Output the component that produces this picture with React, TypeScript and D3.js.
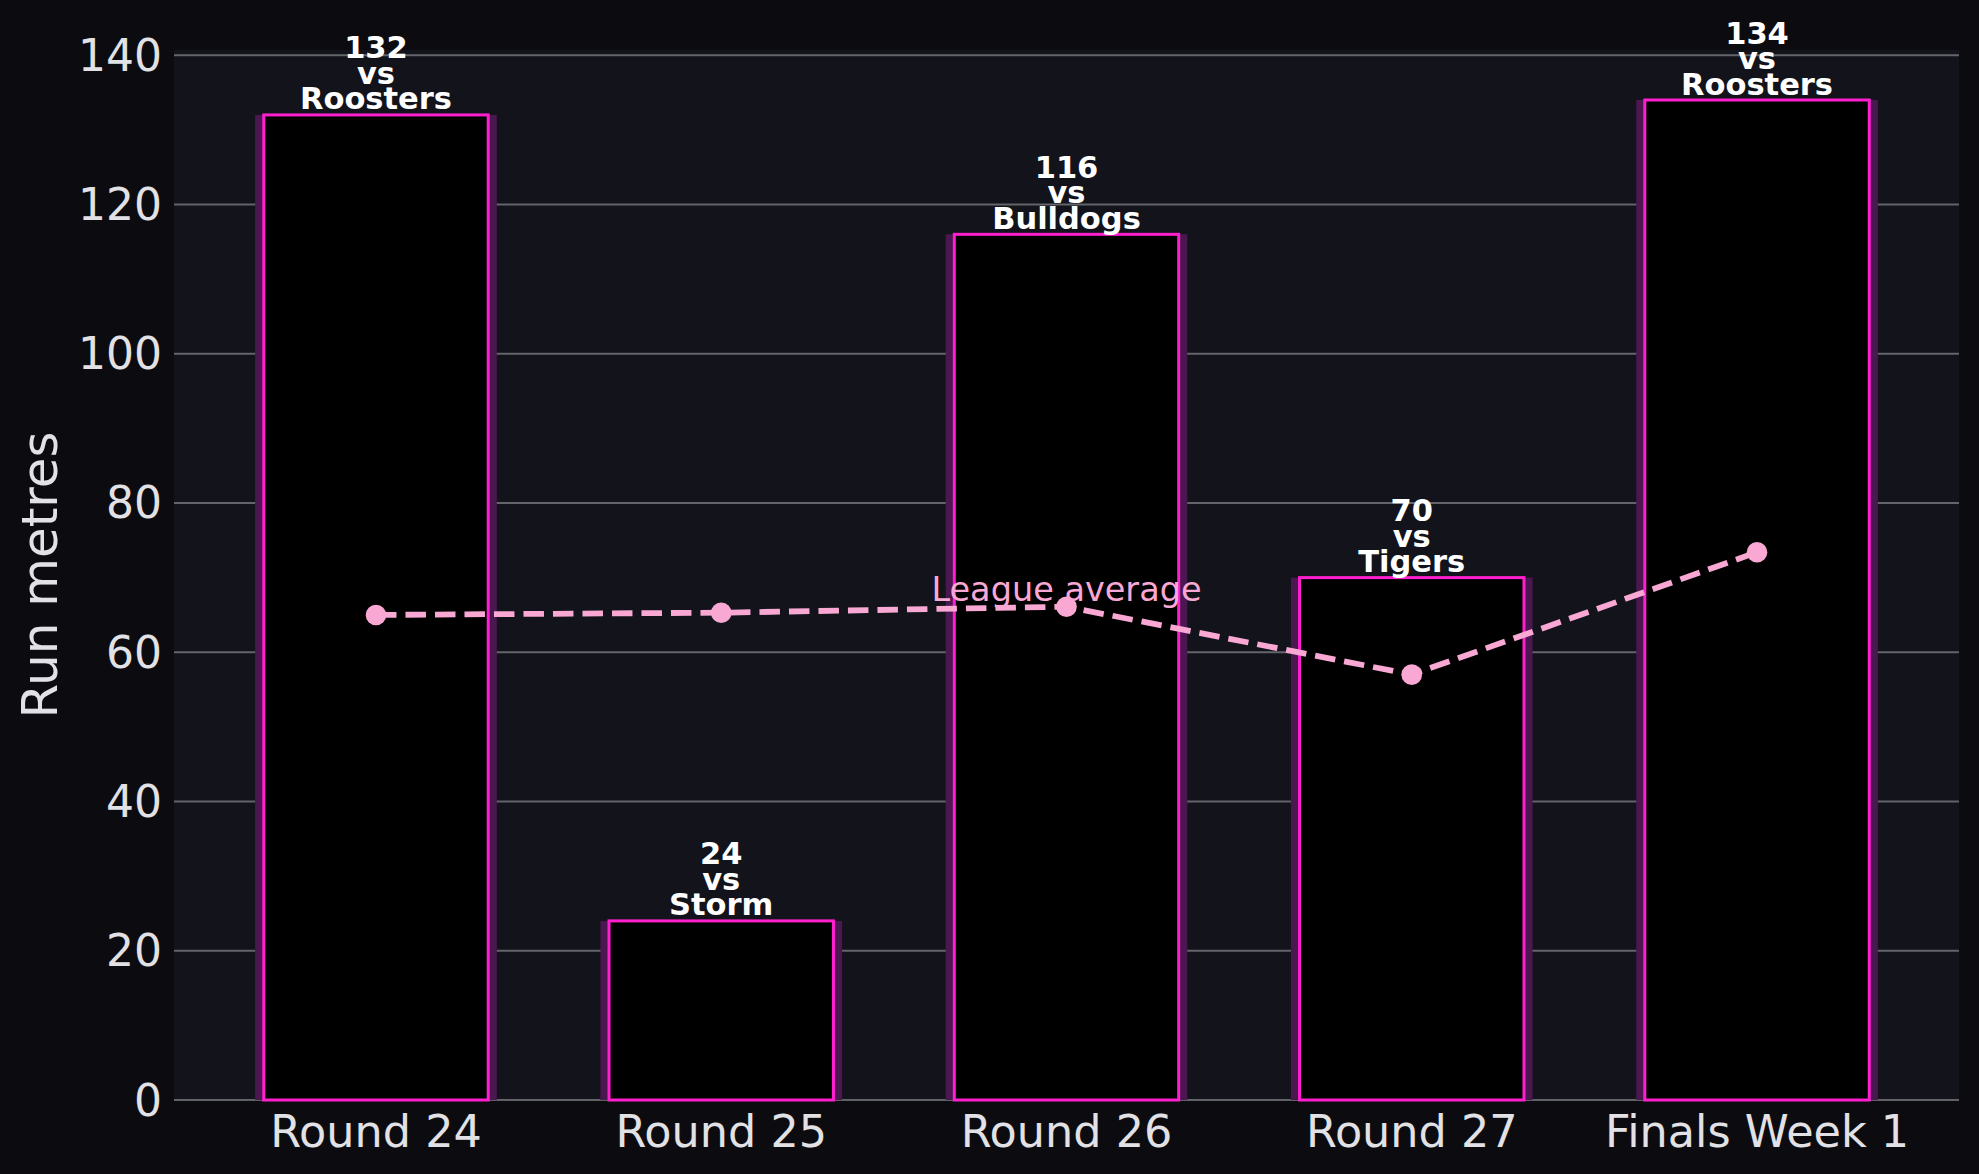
import * as d3 from "d3";

const rounds = ["Round 24", "Round 25", "Round 26", "Round 27", "Finals Week 1"];
const runMetres = [132, 24, 116, 70, 134];
const opponents = ["Roosters", "Storm", "Bulldogs", "Tigers", "Roosters"];
const leagueAverage = [65.0, 65.3, 66.1, 57.0, 73.4];
const yTicks = [0, 20, 40, 60, 80, 100, 120, 140];

const App = () => {
    const width = 1979;
    const height = 1174;
    const margin = { left: 174, right: 20, top: 50, bottom: 74 };
    const font = "'DejaVu Sans', sans-serif";
    const magenta = "#ff1fcf";
    const pink = "#f9a8d4";

    // bars at 0..n-1, matplotlib-style 5% padding around the glow bars
    const xScale = d3
        .scaleLinear()
        .domain([-0.585, rounds.length - 1 + 0.585])
        .range([margin.left, width - margin.right]);
    const yScale = d3
        .scaleLinear()
        .domain([0, d3.max(runMetres) * 1.05])
        .range([height - margin.bottom, margin.top]);

    const unit = xScale(1) - xScale(0);
    const barW = 0.65 * unit;
    const glowW = 0.7 * unit;

    const lineGenerator = d3
        .line()
        .x((d, i) => xScale(i))
        .y((d) => yScale(d));

    return (
        <div style={{ position: "absolute", left: 0, top: 0 }}>
            <svg width={width} height={height} style={{ display: "block" }}>
                <rect width={width} height={height} fill="#0c0c10" />
                <rect
                    x={margin.left}
                    y={margin.top}
                    width={width - margin.left - margin.right}
                    height={height - margin.top - margin.bottom}
                    fill="#12131b"
                />
                {yTicks.map((t) => (
                    <g key={t}>
                        <line
                            x1={margin.left}
                            x2={width - margin.right}
                            y1={yScale(t)}
                            y2={yScale(t)}
                            stroke="#ffffff"
                            strokeOpacity={0.35}
                            strokeWidth={2}
                        />
                        <text
                            x={margin.left - 12}
                            y={yScale(t)}
                            textAnchor="end"
                            dominantBaseline="central"
                            fontFamily={font}
                            fontSize={44}
                            fill="#e2e2e6"
                        >
                            {t}
                        </text>
                    </g>
                ))}
                {runMetres.map((v, i) => (
                    <g key={rounds[i]}>
                        {/* glow behind the bar */}
                        <rect
                            x={xScale(i) - glowW / 2}
                            y={yScale(v)}
                            width={glowW}
                            height={yScale(0) - yScale(v)}
                            fill="#4b1750"
                        />
                        <rect
                            x={xScale(i) - barW / 2}
                            y={yScale(v)}
                            width={barW}
                            height={yScale(0) - yScale(v)}
                            fill="#000000"
                            stroke={magenta}
                            strokeWidth={3}
                        />
                        <text
                            x={xScale(i)}
                            y={yScale(v) - 5.5 - 2 * 25.5}
                            textAnchor="middle"
                            fontFamily={font}
                            fontWeight="bold"
                            fontSize={30.5}
                            fill="#ffffff"
                        >
                            {[String(v), "vs", opponents[i]].map((s, k) => (
                                <tspan key={k} x={xScale(i)} dy={k === 0 ? 0 : 25.5}>
                                    {s}
                                </tspan>
                            ))}
                        </text>
                        <text
                            x={xScale(i)}
                            y={1147}
                            textAnchor="middle"
                            fontFamily={font}
                            fontSize={44.5}
                            fill="#e2e2e6"
                        >
                            {rounds[i]}
                        </text>
                    </g>
                ))}
                <path
                    d={lineGenerator(leagueAverage)}
                    fill="none"
                    stroke={pink}
                    strokeWidth={5.8}
                    strokeDasharray="20.5 9"
                />
                {leagueAverage.map((v, i) => (
                    <circle key={i} cx={xScale(i)} cy={yScale(v)} r={10.3} fill={pink} />
                ))}
                <text
                    x={xScale(2)}
                    y={yScale(leagueAverage[2]) - 6}
                    textAnchor="middle"
                    fontFamily={font}
                    fontSize={33.5}
                    fill={pink}
                >
                    League average
                </text>
                <text
                    transform={`translate(57, ${(margin.top + height - margin.bottom) / 2}) rotate(-90)`}
                    textAnchor="middle"
                    fontFamily={font}
                    fontSize={50}
                    fill="#e2e2e6"
                >
                    Run metres
                </text>
            </svg>
        </div>
    );
};
export default App;
